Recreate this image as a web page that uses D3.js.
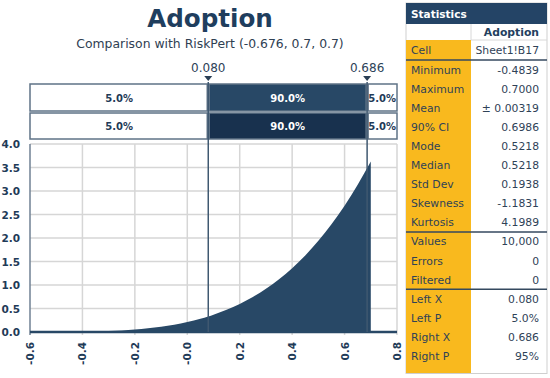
<!DOCTYPE html>
<html>
<head>
    <meta charset="utf-8">
    <title>Adoption</title>
    <script src="https://d3js.org/d3.v7.min.js" charset="utf-8"></script>
    <style>
        html, body { margin: 0; padding: 0; background: #fff; }
        text { font-family: "DejaVu Sans", sans-serif; }
    </style>
</head>
<body>
<div id="chart"></div>
<script>
    // density curve
    const xVals = [-0.6, -0.5, -0.4, -0.35, -0.3, -0.25, -0.2, -0.15, -0.1, -0.05, 0.0, 0.05, 0.08, 0.1, 0.15, 0.2, 0.25, 0.3, 0.35, 0.4, 0.45, 0.5, 0.55, 0.6, 0.65, 0.7];
    const density = [0.0, 0.0, 0.006, 0.011, 0.02, 0.033, 0.052, 0.078, 0.112, 0.156, 0.212, 0.282, 0.331, 0.368, 0.472, 0.597, 0.745, 0.92, 1.123, 1.359, 1.629, 1.939, 2.29, 2.687, 3.134, 3.63];

    const xTicks = [-0.6, -0.4, -0.2, 0.0, 0.2, 0.4, 0.6, 0.8];
    const xTickLabels = ["-0.6", "-0.4", "-0.2", "-0.0", "0.2", "0.4", "0.6", "0.8"];
    const yTicks = [0, 0.5, 1.0, 1.5, 2.0, 2.5, 3.0, 3.5, 4.0];

    const markers = [0.080, 0.686];
    const markerLabels = ["0.080", "0.686"];
    const bandPercents = ["5.0%", "90.0%", "5.0%"];

    const statLabels = ["Cell", "Minimum", "Maximum", "Mean", "90% CI", "Mode", "Median", "Std Dev", "Skewness", "Kurtosis", "Values", "Errors", "Filtered", "Left X", "Left P", "Right X", "Right P"];
    const statValues = ["Sheet1!B17", "-0.4839", "0.7000", "± 0.00319", "0.6986", "0.5218", "0.5218", "0.1938", "-1.1831", "4.1989", "10,000", "0", "0", "0.080", "5.0%", "0.686", "95%"];

    const W = 550, H = 378;
    const navy = "#284866", navyDark = "#18314e", textBlue = "#1f3b58";

    const svg = d3.select("#chart").append("svg")
        .attr("width", W).attr("height", H);

    const x = d3.scaleLinear().domain([-0.6, 0.8]).range([30, 397]);
    const y = d3.scaleLinear().domain([0, 4]).range([332, 144]);

    // titles
    svg.append("text")
        .attr("x", 210).attr("y", 27)
        .attr("text-anchor", "middle")
        .style("font-size", "24.6px").style("font-weight", "bold")
        .attr("fill", "#1f3e5e")
        .text("Adoption");
    svg.append("text")
        .attr("x", 210).attr("y", 48)
        .attr("text-anchor", "middle")
        .style("font-size", "12.4px")
        .attr("fill", "#2f4052")
        .text("Comparison with RiskPert (-0.676, 0.7, 0.7)");

    // grid lines
    svg.append("g").selectAll("line")
        .data(xTicks.slice(1))
        .enter().append("line")
        .attr("x1", d => x(d)).attr("x2", d => x(d))
        .attr("y1", y(4)).attr("y2", y(0) + 3)
        .attr("stroke", "#d6d6d6").attr("stroke-width", 1.5);
    svg.append("g").selectAll("line")
        .data(yTicks.slice(1))
        .enter().append("line")
        .attr("x1", x(-0.6)).attr("x2", x(0.8))
        .attr("y1", d => y(d)).attr("y2", d => y(d))
        .attr("stroke", "#d6d6d6").attr("stroke-width", 1.5);

    // density area
    const area = d3.area()
        .x((d, i) => x(xVals[i]))
        .y0(y(0))
        .y1(d => y(d))
        .curve(d3.curveMonotoneX);
    svg.append("path")
        .datum(density)
        .attr("fill", navy)
        .attr("d", area);

    // axes lines
    svg.append("line")
        .attr("x1", x(-0.6)).attr("x2", x(-0.6))
        .attr("y1", y(4)).attr("y2", y(0) + 3)
        .attr("stroke", "#6f8093").attr("stroke-width", 1.5);
    svg.append("line")
        .attr("x1", x(-0.6)).attr("x2", x(0.8))
        .attr("y1", y(0)).attr("y2", y(0))
        .attr("stroke", navy).attr("stroke-width", 2.5);

    // y tick labels
    svg.append("g").selectAll("text")
        .data(yTicks)
        .enter().append("text")
        .attr("x", 20).attr("y", d => y(d) + 4)
        .attr("text-anchor", "end")
        .style("font-size", "10.5px").style("font-weight", "bold")
        .attr("fill", textBlue)
        .text(d => d.toFixed(1));

    // x tick labels (rotated)
    svg.append("g").selectAll("text")
        .data(xTicks)
        .enter().append("text")
        .attr("transform", d => `translate(${x(d) + 4}, 342) rotate(-90)`)
        .attr("text-anchor", "end")
        .style("font-size", "10.5px").style("font-weight", "bold")
        .attr("fill", textBlue)
        .text((d, i) => xTickLabels[i]);

    // percentile bands
    const edges = [-0.6, markers[0], markers[1], 0.8];
    const rows = [{ y: 84, h: 27, fill: navy }, { y: 113, h: 26, fill: navyDark }];
    rows.forEach(r => {
        const g = svg.append("g");
        g.selectAll("rect")
            .data(bandPercents)
            .enter().append("rect")
            .attr("x", (d, i) => x(edges[i]) + (i > 0 ? 1 : 0))
            .attr("y", r.y)
            .attr("width", (d, i) => x(edges[i + 1]) - x(edges[i]) - (i > 0 ? 1 : 0) - (i < 2 ? 1 : 0))
            .attr("height", r.h)
            .attr("fill", (d, i) => i === 1 ? r.fill : "#fff")
            .attr("stroke", "#5f7387").attr("stroke-width", 1.5);
        g.selectAll("text")
            .data(bandPercents)
            .enter().append("text")
            .attr("x", (d, i) => (x(edges[i]) + x(edges[i + 1])) / 2)
            .attr("y", r.y + r.h / 2 + 4)
            .attr("text-anchor", "middle")
            .style("font-size", "10px").style("font-weight", "bold")
            .attr("fill", (d, i) => i === 1 ? "#fff" : textBlue)
            .text(d => d);
    });

    // marker lines, triangles, labels
    markers.forEach((m, i) => {
        svg.append("line")
            .attr("x1", x(m)).attr("x2", x(m))
            .attr("y1", 82).attr("y2", y(0))
            .attr("stroke", "#3f5870").attr("stroke-width", 1.5);
        svg.append("path")
            .attr("d", `M${x(m) - 4},76 L${x(m) + 4},76 L${x(m)},81 Z`)
            .attr("fill", "#2a3f55");
        svg.append("text")
            .attr("x", x(m)).attr("y", 72)
            .attr("text-anchor", "middle")
            .style("font-size", "12px")
            .attr("fill", "#2d4258")
            .text(markerLabels[i]);
    });

    // statistics table
    const tx = 406, tw = 141, split = 471, rowH = 19.1;
    const tab = svg.append("g");
    tab.append("rect")
        .attr("x", tx).attr("y", 3).attr("width", tw).attr("height", 370.5)
        .attr("fill", "#fff").attr("stroke", "#cfcfcf").attr("stroke-width", 1);
    tab.append("rect")
        .attr("x", tx).attr("y", 3).attr("width", tw).attr("height", 21)
        .attr("fill", "#244466");
    tab.append("text")
        .attr("x", tx + 5).attr("y", 18)
        .style("font-size", "10.5px").style("font-weight", "bold")
        .attr("fill", "#fff").text("Statistics");
    tab.append("text")
        .attr("x", 539).attr("y", 36)
        .attr("text-anchor", "end")
        .style("font-size", "10.8px").style("font-weight", "bold")
        .attr("fill", "#23405e").text("Adoption");
    tab.append("rect")
        .attr("x", tx).attr("y", 40).attr("width", split - tx).attr("height", 333)
        .attr("fill", "#f9b91e");
    tab.append("line")
        .attr("x1", split).attr("x2", tx + tw).attr("y1", 40).attr("y2", 40)
        .attr("stroke", "#d8d8d8");
    tab.append("line")
        .attr("x1", split).attr("x2", split).attr("y1", 24).attr("y2", 40)
        .attr("stroke", "#d8d8d8");

    // row positions: Cell row first, then fixed height rows
    const rowY = statLabels.map((d, i) => i === 0 ? 50 : 60 + rowH * (i - 1) + rowH / 2);
    tab.selectAll("text.lab")
        .data(statLabels)
        .enter().append("text")
        .attr("class", "lab")
        .attr("x", tx + 5).attr("y", (d, i) => rowY[i] + 4)
        .style("font-size", "10.8px")
        .attr("fill", "#2f4257")
        .text(d => d);
    tab.selectAll("text.val")
        .data(statValues)
        .enter().append("text")
        .attr("class", "val")
        .attr("x", 539).attr("y", (d, i) => rowY[i] + 4)
        .attr("text-anchor", "end")
        .style("font-size", "10.8px")
        .attr("fill", "#2f4257")
        .text(d => d);

    // section separators
    [60, 60 + rowH * 9, 60 + rowH * 12].forEach(ly => {
        tab.append("line")
            .attr("x1", tx).attr("x2", tx + tw).attr("y1", ly).attr("y2", ly)
            .attr("stroke", "#34495f").attr("stroke-width", 1.5);
    });
</script>
</body>
</html>
